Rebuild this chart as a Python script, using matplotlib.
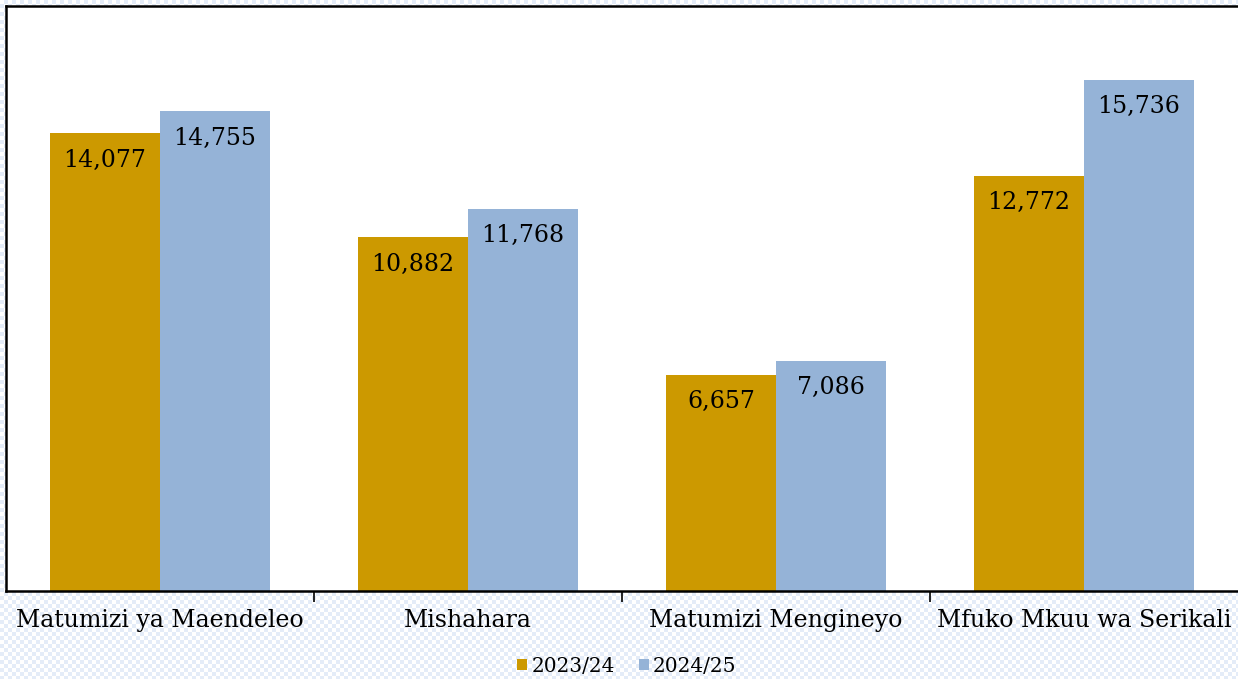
import numpy as np
import matplotlib.pyplot as plt

categories = ['Matumizi ya Maendeleo', 'Mishahara', 'Matumizi Mengineyo', 'Mfuko Mkuu wa Serikali']
series_names = ['2023/24', '2024/25']
values_2023 = [14077, 10882, 6657, 12772]
values_2024 = [14755, 11768, 7086, 15736]
colors = ['#CC9900', '#95B3D7']

plt.rcParams['font.family'] = ['DejaVu Serif']

fig = plt.figure(figsize=(12.38, 6.79), dpi=100)

# light checker background behind the plot area
h, w = 679, 1238
yy, xx = np.mgrid[0:h, 0:w]
check = ((xx // 4 + yy // 4) % 2).astype(float)
bg = np.ones((h, w, 3))
bg[check == 1] = np.array([228, 236, 248]) / 255
fig.figimage(bg, 0, 0, zorder=-10)

ax = fig.add_axes([6 / 1238, 1 - 591 / 679, 1232 / 1238, 585 / 679])
ax.set_zorder(1)
ax.set_facecolor('white')

x = np.arange(len(categories))
bw = 110 / 308
b1 = ax.bar(x - bw / 2, values_2023, bw, color=colors[0], label=series_names[0], zorder=2)
b2 = ax.bar(x + bw / 2, values_2024, bw, color=colors[1], label=series_names[1], zorder=2)

for bars in (b1, b2):
    for rect in bars:
        v = rect.get_height()
        ax.annotate(f'{v:,.0f}', (rect.get_x() + rect.get_width() / 2, v),
                    xytext=(0, -27), textcoords='offset pixels',
                    ha='center', va='center', fontsize=17, color='black', zorder=3)

ax.set_xlim(-0.5, 3.5)
ax.set_ylim(0, 18000)
ax.set_yticks([])
ax.set_xticks(x)
ax.set_xticklabels(categories, fontsize=17)
ax.set_xticks(np.arange(0.5, 3.5, 1), minor=True)
ax.tick_params(axis='x', which='major', length=0, pad=13)
ax.tick_params(axis='x', which='minor', length=8, width=1.2, color='black', direction='out')
for side in ['left', 'top', 'bottom']:
    ax.spines[side].set_color('black')
    ax.spines[side].set_linewidth(1.8)
ax.spines['right'].set_visible(False)

leg = fig.legend(handles=[b1, b2], labels=series_names, loc='center',
                 bbox_to_anchor=(0.5 + 8 / 1238, 1 - 666 / 679), ncol=2, frameon=False,
                 fontsize=14.5, handlelength=0.5, handleheight=0.5,
                 handletextpad=0.2, columnspacing=1.2)

fig.savefig('out.png', dpi=100)
